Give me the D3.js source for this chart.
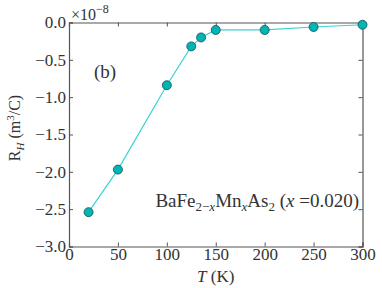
<!DOCTYPE html>
<meta charset="utf-8">
<script src="https://d3js.org/d3.v7.min.js"></script>
<style>
  body { margin: 0; background: white; }
  text { font-family: "Liberation Serif", "DejaVu Serif", serif; fill: #333; }
</style>
<body>
<svg id="chart" width="382" height="288"></svg>
<script>
// temperature (K) and Hall coefficient (units of 1e-8 m^3/C)
var temps = [20, 50, 100, 125, 135, 150, 200, 250, 300];
var rh = [-2.54, -1.97, -0.84, -0.32, -0.20, -0.10, -0.10, -0.06, -0.03];
var xTicks = [0, 50, 100, 150, 200, 250, 300];
var yTicks = [0.0, -0.5, -1.0, -1.5, -2.0, -2.5, -3.0];

var margin = {top: 22.5, right: 19.5, bottom: 41.5, left: 69},
    width = 382 - margin.left - margin.right,
    height = 288 - margin.top - margin.bottom;

var svg = d3.select("#chart");
var g = svg.append("g").attr("transform", "translate(" + margin.left + "," + margin.top + ")");

var x = d3.scaleLinear().domain([0, 300]).range([0, width]);
var y = d3.scaleLinear().domain([-3, 0]).range([height, 0]);

function fmt(d) { return (d < 0 ? "\u2212" : "") + Math.abs(d).toFixed(1); }

// axes with inward ticks on all sides
var axBottom = g.append("g").attr("transform", "translate(0," + height + ")")
  .call(d3.axisBottom(x).tickValues(xTicks).tickSize(-4).tickPadding(2));
var axTop = g.append("g").call(d3.axisTop(x).tickValues(xTicks).tickSize(-4).tickFormat(""));
var axLeft = g.append("g").call(d3.axisLeft(y).tickValues(yTicks).tickSize(-4).tickPadding(3).tickFormat(fmt));
var axRight = g.append("g").attr("transform", "translate(" + width + ",0)")
  .call(d3.axisRight(y).tickValues(yTicks).tickSize(-4).tickFormat(""));

[axBottom, axTop, axLeft, axRight].forEach(function(a) {
  a.select(".domain").attr("stroke", "#555").attr("stroke-width", 1.2);
  a.selectAll(".tick line").attr("stroke", "#555");
  a.selectAll("text").style("font-size", "17px").attr("fill", "#333");
});
axBottom.selectAll("text").attr("dy", "0.68em");

// line + markers
var line = d3.line().x(function(d, i) { return x(temps[i]); }).y(function(d) { return y(d); });
g.append("path").datum(rh)
  .attr("fill", "none").attr("stroke", "#3ad3d3").attr("stroke-width", 1.2)
  .attr("d", line);
g.selectAll("circle").data(rh).enter().append("circle")
  .attr("cx", function(d, i) { return x(temps[i]); })
  .attr("cy", function(d) { return y(d); })
  .attr("r", 4.5)
  .attr("fill", "#00b5b5").attr("stroke", "#1a4a4a").attr("stroke-width", 0.8);

// labels
svg.append("text").attr("x", 71).attr("y", 20).style("font-size", "16px")
  .html('\u00d710<tspan dy="-7" style="font-size:12px">\u22128</tspan>');

svg.append("text").attr("x", 94).attr("y", 78).style("font-size", "19px").text("(b)");

var yl = svg.append("text").attr("transform", "translate(20,128) rotate(-90)")
  .attr("text-anchor", "middle").style("font-size", "16px");
yl.append("tspan").text("R");
yl.append("tspan").attr("dy", 4).style("font-size", "11px").style("font-style", "italic").text("H");
yl.append("tspan").attr("dy", -4).text(" (m");
yl.append("tspan").attr("dy", -6).style("font-size", "11px").text("3");
yl.append("tspan").attr("dy", 6).text("/C)");

var xl = svg.append("text").attr("x", margin.left + width / 2).attr("y", 282)
  .attr("text-anchor", "middle").style("font-size", "17px");
xl.append("tspan").style("font-style", "italic").text("T");
xl.append("tspan").text(" (K)");

var ann = svg.append("text").attr("x", 359).attr("y", 207).attr("text-anchor", "end").style("font-size", "19px");
ann.append("tspan").text("BaFe");
ann.append("tspan").attr("dy", 4).style("font-size", "13px").text("2\u2212");
ann.append("tspan").style("font-size", "13px").style("font-style", "italic").text("x");
ann.append("tspan").attr("dy", -4).text("Mn");
ann.append("tspan").attr("dy", 4).style("font-size", "13px").style("font-style", "italic").text("x");
ann.append("tspan").attr("dy", -4).text("As");
ann.append("tspan").attr("dy", 4).style("font-size", "13px").text("2");
ann.append("tspan").attr("dy", -4).text(" (");
ann.append("tspan").style("font-style", "italic").text("x");
ann.append("tspan").text(" =0.020)");
</script>
</body>
